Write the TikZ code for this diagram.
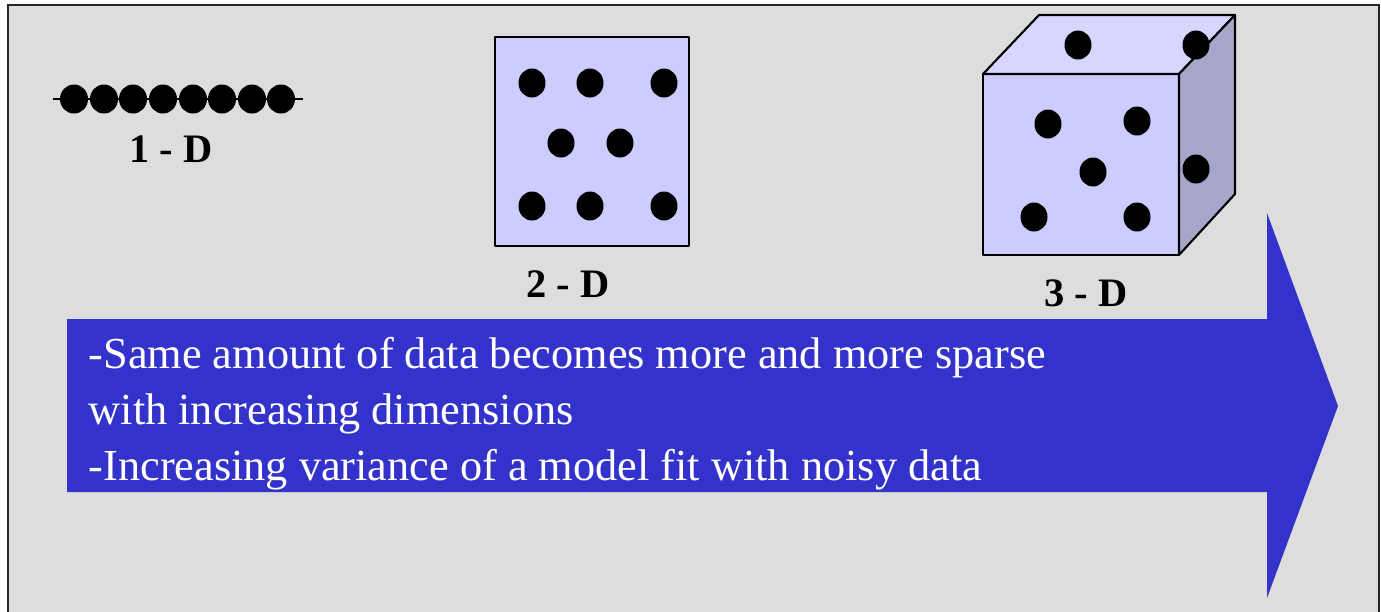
\documentclass[tikz,border=0pt]{standalone}
\usepackage{fontspec}
\setmainfont{Liberation Serif}
\usetikzlibrary{positioning}

\definecolor{panelgray}{HTML}{DDDDDD}
\definecolor{facefront}{HTML}{CCCCFF}
\definecolor{facetop}{HTML}{D6D6FF}
\definecolor{faceside}{HTML}{A6A6CC}
\definecolor{arrowblue}{HTML}{3333CC}

\begin{document}
\begin{tikzpicture}[
  x=0.01cm, y=-0.01cm,
  face/.style={draw=black, line width=0.6pt, line join=round},
  dimlabel/.style={font=\fontsize{11.5}{14}\selectfont\bfseries, inner sep=0pt, anchor=base},
  sample/.style={fill=black},
]

\useasboundingbox (0,0) rectangle (1381,611);
\clip (0,0) rectangle (1381,611);

% Background panel
\draw[fill=panelgray, draw=black!85, line width=0.6pt] (8,5) rectangle (1379,640);

% 1-D: points on a line
\draw[line width=0.6pt] (53,99) -- (303,99);
\foreach \x in {74,104,133,163,193,222,252,281}
  \fill[sample] (\x,99) ellipse [x radius=0.14cm, y radius=0.145cm];
\node[dimlabel] (oneD) at (171,162) {1 - D};

% 2-D: points in a square
\draw[face, fill=facefront] (495,37) rectangle (689,246);
\foreach \x/\y in {532/83, 590/83, 664/83, 561/143, 620/143, 532/206, 590/206, 664/206}
  \fill[sample] (\x,\y) ellipse [x radius=0.135cm, y radius=0.145cm];
\node[dimlabel] (twoD) at (568,297) {2 - D};

% 3-D: points in a cube
\draw[face, fill=facefront] (983,74) rectangle (1179,255);
\draw[face, fill=facetop] (983,74) -- (1039,15) -- (1235,15) -- (1179,74) -- cycle;
\draw[face, fill=faceside] (1179,74) -- (1235,15) -- (1235,194) -- (1179,255) -- cycle;
\foreach \x/\y in {1078/45, 1196/45, 1048/124, 1137/121, 1093/172, 1034/217, 1137/217, 1196/169}
  \fill[sample] (\x,\y) ellipse [x radius=0.135cm, y radius=0.145cm];
\node[dimlabel] (threeD) at (1086,306) {3 - D};

% Big arrow with the explanation
\fill[arrowblue] (67,319) -- (1267,319) -- (1267,213) -- (1338,406)
  -- (1267,598) -- (1267,492) -- (67,492) -- cycle;
\node[text=white, font=\fontsize{12.6}{15.9}\selectfont, align=left,
  anchor=base west, inner sep=0pt] (sparse) at (88,480)
  {-Same amount of data becomes more and more sparse\\
   with increasing dimensions\\
   -Increasing variance of a model fit with noisy data};

\end{tikzpicture}
\end{document}
